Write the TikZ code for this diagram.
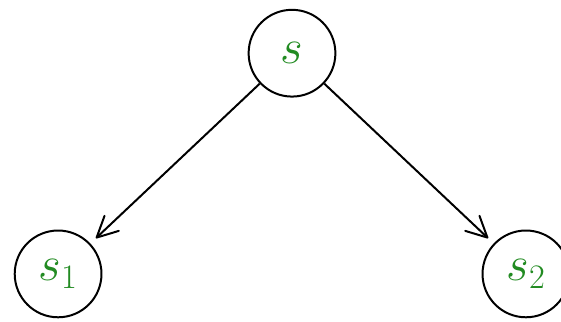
\documentclass[tikz,border=0pt]{standalone}
\usepackage{fix-cm}
\usetikzlibrary{arrows.meta,positioning}
\definecolor{stategreen}{RGB}{34,139,34}

\begin{document}
\begin{tikzpicture}[
  state/.style={draw,circle,line width=1.5pt,minimum size=2.3cm,inner sep=0pt,
    text=stategreen,font=\fontsize{37}{40}\selectfont},
  trans/.style={-{Straight Barb[length=5.5mm,width=5.5mm,round]},line width=1.5pt,shorten >=2mm},
  node distance=5.85cm and 6.2cm,on grid,
]
  \useasboundingbox (0,0) rectangle (14.87,8.51);
  \node[state] (s) at (7.74,7.1) {$s$};
  \node[state,below left=of s] (s1) {$s_1$};
  \node[state,below right=of s] (s2) {$s_2$};

  \draw[trans] (s) -- (s1);
  \draw[trans] (s) -- (s2);
\end{tikzpicture}
\end{document}
